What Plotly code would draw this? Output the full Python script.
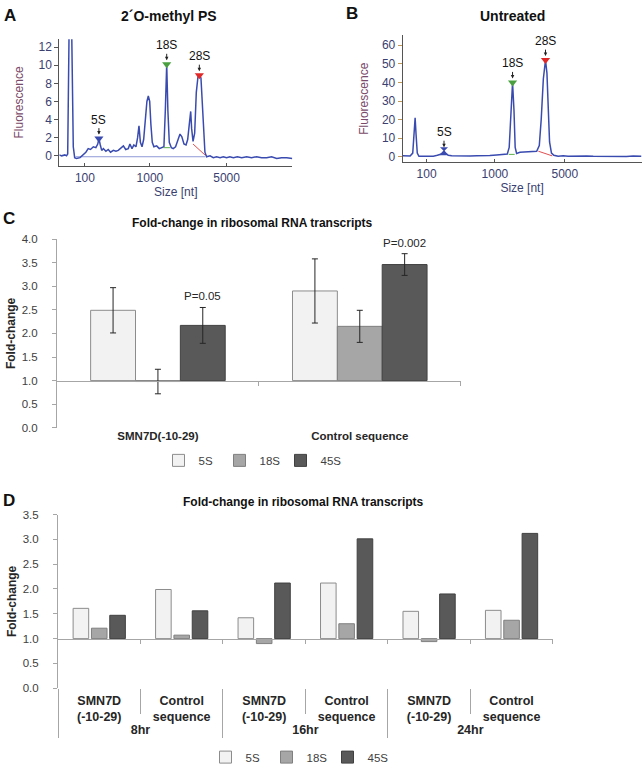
import plotly.graph_objects as go

W, H = 642, 772

# ---------------- DATA ----------------
# Panel A: electropherogram, 2'O-methyl PS (migration position, fluorescence)
a_pos = [0, 1.0, 2.4, 3.1, 3.6, 4.0, 4.3, 5.2, 5.6, 6.0, 6.6, 7.4, 8.9, 10.3, 11.4, 12.4, 13.4, 14.6,
         15.7, 16.5, 17.0, 17.6, 18.2, 18.9, 20.0, 21.0, 22.0, 23.2, 24.3, 25.3, 26.3, 27.5, 28.5,
         29.6, 30.3, 31.2, 32.0, 32.9, 33.6, 34.2, 34.8, 35.5, 36.2, 36.9, 37.6, 38.2, 38.8, 39.3,
         39.9, 40.6, 41.8, 42.9, 44.1, 44.9, 45.5, 46.1, 46.6, 47.2, 48.1, 48.9, 49.9, 50.8, 51.8,
         52.6, 53.5, 54.4, 55.1, 55.8, 56.4, 56.8, 57.4, 58.1, 58.8, 59.5, 60.1, 60.8, 61.4, 61.9,
         62.5, 63.2, 64.7, 66.1, 67.5, 69.0, 70.4, 71.8, 73.2, 74.7, 76.4, 78.3, 80.4, 82.5, 84.7,
         86.8, 89.0, 91.1, 93.3, 95.4, 97.6, 100]
a_fluor = [0.1, 0.0, 0.1, 0.0, 0.2, 8, 16, 16, 8, 1, -0.2, -0.3, -0.2, 0.1, 0.4, 0.8, 0.7, 1.0,
           0.9, 1.3, 1.9, 1.2, 0.6, 0.8, 0.5, 0.7, 0.4, 0.6, 0.5, 0.6, 0.8, 1.1, 0.7,
           0.8, 1.3, 0.8, 1.2, 1.0, 2.0, 3.3, 1.5, 1.0, 1.8, 4.0, 6.0, 6.6, 6.0, 3.5,
           1.5, 1.0, 1.1, 0.8, 0.9, 1.0, 5.0, 10.1, 5.0, 1.5, 0.9, 0.8, 1.0, 1.8, 2.4,
           2.1, 1.3, 1.2, 1.8, 3.5, 4.9, 3.0, 1.6, 2.5, 7.0, 8.7, 8.9, 8.6, 6.0, 2.5,
           0.4, -0.1, 0.0, -0.2, -0.1, -0.2, -0.1, -0.2, -0.1, -0.2, -0.1, -0.2, -0.1, -0.2, -0.1,
           -0.2, -0.2, -0.1, -0.3, -0.2, -0.2, -0.3]
a_base_pos = [7.0, 62.5]
a_base_val = [-0.1, -0.1]
a_tick_pos = [11.0, 38.9, 71.8]
peak_names = ["5S", "18S", "28S"]
a_peak_pos = [17.0, 46.1, 60.1]
a_peak_val = [1.9, 10.1, 8.9]
a_18s_base_pos = [44.7, 47.6]
a_18s_base_val = [0.9, 0.9]
a_28s_base_pos = [57.4, 62.5]
a_28s_base_val = [1.3, 0.1]

# Panel B: electropherogram, untreated
b_pos = [0, 1.4, 3.1, 4.2, 4.7, 5.2, 5.6, 6.1, 6.8, 8.6, 10.7, 12.8, 14.5, 15.6, 16.5, 17.3, 18.1,
         19.1, 20.5, 22.6, 25.4, 28.2, 31.0, 33.8, 36.5, 39.3, 42.1, 43.8, 44.6, 45.2, 46.0, 46.6,
         47.1, 47.7, 49.1, 50.8, 52.6, 54.7, 56.1, 57.2, 58.0, 58.9, 59.8, 60.4, 60.9, 61.5, 62.3,
         63.3, 65.1, 67.2, 69.3, 71.4, 74.2, 77.0, 79.8, 82.6, 85.4, 88.1, 90.9, 93.7, 96.5, 100]
b_fluor = [0.5, 0.3, 0.4, 2, 12, 21, 12, 2, 0.3, 0.2, 0.4, 0.3, 0.8, 1.2, 2.0, 3.0, 1.8,
           0.8, 0.5, 0.4, 0.5, 0.4, 0.6, 0.5, 0.7, 1.0, 1.3, 1.5, 5, 22, 40, 25,
           5, 1.8, 2.4, 2.6, 2.8, 2.8, 3.0, 6, 20, 42, 52, 45, 25, 8, 2,
           0.8, 0.3, 0.5, 0.3, 0.4, 0.3, 0.4, 0.3, 0.2, 0.4, 0.3, 0.3, 0.2, 0.4, 0.3]
b_tick_pos = [10.0, 38.6, 67.9]
b_peak_pos = [17.3, 46.0, 59.8]
b_peak_val = [3.0, 40.0, 52.0]
b_18s_base_pos = [44.4, 46.9]
b_18s_base_val = [1.3, 1.3]
b_28s_base_pos = [56.8, 62.6]
b_28s_base_val = [3.0, 0.5]

size_labels = ["100", "1000", "5000"]

# Panel C
c_groups = ["SMN7D(-10-29)", "Control sequence"]
rna_names = ["5S", "18S", "45S"]
c_5s = [2.49, 2.90]
c_18s = [0.98, 2.15]
c_45s = [2.17, 3.46]
c_5s_err = [0.48, 0.68]
c_18s_err = [0.26, 0.34]
c_45s_err = [0.38, 0.23]
c_pvals = ["P=0.05", "P=0.002"]

# Panel D
d_times = ["8hr", "8hr", "16hr", "16hr", "24hr", "24hr"]
d_treat = ["SMN7D<br>(-10-29)", "Control<br>sequence"] * 3
d_5s = [1.61, 1.99, 1.42, 2.12, 1.55, 1.57]
d_18s = [1.21, 1.07, 0.90, 1.30, 0.94, 1.37]
d_45s = [1.47, 1.56, 2.12, 3.01, 1.90, 3.12]

baseline = 1.0

# ---------------- STYLE ----------------
NARROW = "Liberation Sans Narrow, Arial Narrow, Liberation Sans, Arial, sans-serif"
SANS = "Liberation Sans, Arial, Helvetica, sans-serif"
TRACE_BLUE = "#3a4bb0"
EP_TXT = "#3a4070"
fills = ["#f2f2f2", "#a6a6a6", "#595959"]
edges = ["#8c8c8c", "#7f7f7f", "#404040"]
AXC = "#a6a6a6"


def fx(p):
    return p / W


def fy(p):
    return 1 - p / H


fig = go.Figure()

# ---------- Panels A & B ----------
for pos, val, tick_pos, peak_pos, peak_val, s18p, s18v, s28p, s28v, xa, ya, m5 in [
    (a_pos, a_fluor, a_tick_pos, a_peak_pos, a_peak_val, a_18s_base_pos, a_18s_base_val,
     a_28s_base_pos, a_28s_base_val, "x", "y", "triangle-down"),
    (b_pos, b_fluor, b_tick_pos, b_peak_pos, b_peak_val, b_18s_base_pos, b_18s_base_val,
     b_28s_base_pos, b_28s_base_val, "x2", "y2", "hourglass"),
]:
    if xa == "x":
        fig.add_trace(go.Scatter(x=a_base_pos, y=a_base_val, mode="lines", xaxis=xa, yaxis=ya,
                                 line=dict(color="#8f9ad8", width=1), showlegend=False, hoverinfo="skip"))
    fig.add_trace(go.Scatter(x=pos, y=val, mode="lines", xaxis=xa, yaxis=ya,
                             line=dict(color=TRACE_BLUE, width=1.5), showlegend=False))
    fig.add_trace(go.Scatter(x=s18p, y=s18v, mode="lines", xaxis=xa, yaxis=ya,
                             line=dict(color="#5cb04a", width=1), showlegend=False, hoverinfo="skip"))
    fig.add_trace(go.Scatter(x=s28p, y=s28v, mode="lines", xaxis=xa, yaxis=ya,
                             line=dict(color="#e05050", width=1), showlegend=False, hoverinfo="skip"))
    fig.add_trace(go.Scatter(x=peak_pos, y=peak_val, mode="markers", xaxis=xa, yaxis=ya,
                             marker=dict(symbol=[m5, "triangle-down", "triangle-down"],
                                         color=["#3a4bb0", "#4aa040", "#e02828"], size=8),
                             text=peak_names, showlegend=False))
    for nm, p, v in zip(peak_names, peak_pos, peak_val):
        fig.add_annotation(x=p, y=v, xref=xa, yref=ya, text=nm, showarrow=True,
                           ax=0, ay=-19, arrowhead=2, arrowsize=0.7, arrowwidth=1,
                           arrowcolor="#222", standoff=4,
                           font=dict(family=NARROW, size=12, color="#111"))

ep_axis = dict(showline=True, linecolor="#555", linewidth=1, ticks="outside", ticklen=4,
               tickcolor="#555", showgrid=False, zeroline=False,
               tickfont=dict(family=SANS, size=12, color=EP_TXT))
ep_x = dict(ep_axis, ticks="inside", ticklen=3, ticklabelstandoff=1)

fig.update_layout(
    xaxis=dict(ep_x, domain=[fx(59.3), fx(292.3)], range=[0, 100], anchor="y",
               tickmode="array", tickvals=a_tick_pos, ticktext=size_labels,
               title=dict(text="Size [nt]", font=dict(family=SANS, size=12, color=EP_TXT), standoff=0)),
    yaxis=dict(ep_axis, domain=[fy(163), fy(34)], range=[-1.08, 12.86], anchor="x",
               tick0=0, dtick=2,
               title=dict(text="Fluorescence", font=dict(family=SANS, size=12, color="#7a4a6a"), standoff=12)),
    xaxis2=dict(ep_x, domain=[fx(402.7), fx(641.5)], range=[0, 100], anchor="y2",
                tickmode="array", tickvals=b_tick_pos, ticktext=size_labels,
                title=dict(text="Size [nt]", font=dict(family=SANS, size=12, color=EP_TXT), standoff=0)),
    yaxis2=dict(ep_axis, domain=[fy(159.3), fy(30)], range=[-2.8, 65.3], anchor="x2",
                tick0=0, dtick=10, tickcolor="#c09858",
                title=dict(text="Fluorescence", font=dict(family=SANS, size=12, color="#7a4a6a"), standoff=10)),
)

# ---------- Panel C ----------
c_series = [c_5s, c_18s, c_45s]
c_errs = [c_5s_err, c_18s_err, c_45s_err]
bar_w = (1 - 1 / 3) / 3
for i, (nm, vals, errs) in enumerate(zip(rna_names, c_series, c_errs)):
    fig.add_trace(go.Bar(
        x=c_groups, y=[v - baseline for v in vals], base=baseline, name=nm,
        xaxis="x3", yaxis="y3", width=bar_w, offset=-1.5 * bar_w + i * bar_w,
        marker=dict(color=fills[i], line=dict(color=edges[i], width=1)),
        error_y=dict(type="data", array=errs, color="#262626", thickness=1, width=3),
        legend="legend", customdata=vals, hovertemplate="%{x}<br>" + nm + ": %{customdata}<extra></extra>",
    ))
fig.add_trace(go.Scatter(x=[], y=[], xaxis="x5", yaxis="y3", showlegend=False, hoverinfo="skip"))

for gi, (txt, v, e) in enumerate(zip(c_pvals, c_45s, c_45s_err)):
    fig.add_annotation(x=gi + bar_w, y=v + e, xref="x3", yref="y3", text=txt, showarrow=False,
                       yanchor="bottom", yshift=3, font=dict(family=NARROW, size=11.5, color="#262626"))

c_dom = [fy(430.7), fy(238)]
c_range = [0, 4]
c_pos1 = c_dom[0] + (baseline - c_range[0]) / (c_range[1] - c_range[0]) * (c_dom[1] - c_dom[0])

fc_y = dict(showline=True, linecolor=AXC, linewidth=1, ticks="outside", ticklen=4, tickcolor=AXC,
            showgrid=False, zeroline=False, dtick=0.5, tick0=0, tickformat=".1f",
            ticklabelstandoff=12, tickfont=dict(family=NARROW, size=11.5, color="#404040"))

fig.update_layout(
    xaxis3=dict(domain=[fx(57), fx(460.7)], anchor="y3", type="category", categoryarray=c_groups,
                range=[-0.5, 1.5], showline=False, ticks="", showgrid=False, zeroline=False,
                tickfont=dict(family=NARROW, size=11.5, color="#262626", weight="bold")),
    yaxis3=dict(fc_y, domain=c_dom, range=c_range, anchor="x3",
                title=dict(text="Fold-change", font=dict(family=NARROW, size=12, color="#262626", weight="bold"),
                           standoff=3)),
    xaxis5=dict(overlaying="x3", anchor="free", position=c_pos1, range=[-0.5, 1.5],
                tickmode="array", tickvals=[0.5, 1.5], ticks="outside", ticklen=4, tickcolor=AXC,
                showline=True, linecolor=AXC, linewidth=1, showticklabels=False,
                showgrid=False, zeroline=False),
)

# ---------- Panel D ----------
d_series = [d_5s, d_18s, d_45s]
for i, (nm, vals) in enumerate(zip(rna_names, d_series)):
    fig.add_trace(go.Bar(
        x=[d_times, d_treat], y=[v - baseline for v in vals], base=baseline, name=nm,
        xaxis="x4", yaxis="y4",
        marker=dict(color=fills[i], line=dict(color=edges[i], width=1)),
        legend="legend2", customdata=vals, hovertemplate=nm + ": %{customdata}<extra></extra>",
    ))
fig.add_trace(go.Scatter(x=[], y=[], xaxis="x6", yaxis="y4", showlegend=False, hoverinfo="skip"))

d_dom = [fy(696.7), fy(519.3)]
d_range = [0, 3.5]
d_pos1 = d_dom[0] + (baseline - d_range[0]) / (d_range[1] - d_range[0]) * (d_dom[1] - d_dom[0])
n_d = len(d_treat)

fig.update_layout(
    xaxis4=dict(domain=[fx(58), fx(552.8)], anchor="y4", type="multicategory", showline=False,
                ticks="outside", ticklen=25, tickcolor=AXC, tickson="boundaries",
                showdividers=True, dividercolor=AXC, dividerwidth=1, showgrid=False, zeroline=False,
                ticklabelstandoff=3,
                tickfont=dict(family=NARROW, size=12.5, color="#262626", weight="bold")),
    yaxis4=dict(fc_y, domain=d_dom, range=d_range, anchor="x4",
                title=dict(text="Fold-change", font=dict(family=NARROW, size=12, color="#262626", weight="bold"),
                           standoff=3)),
    xaxis6=dict(overlaying="x4", anchor="free", position=d_pos1, range=[-0.5, n_d - 0.5],
                tickmode="array", tickvals=[k + 0.5 for k in range(n_d)], ticks="outside", ticklen=4,
                tickcolor=AXC, showline=True, linecolor=AXC, linewidth=1, showticklabels=False,
                showgrid=False, zeroline=False),
)

# ---------- titles & panel letters ----------
texts = [
    ("A", 2, 10, "left", SANS, 17),
    ("2´O-methyl PS", 169, 10, "center", SANS, 14),
    ("B", 344, 8, "left", SANS, 17),
    ("Untreated", 512, 10, "center", SANS, 14),
    ("C", 1, 217, "left", SANS, 17),
    ("Fold-change in ribosomal RNA transcripts", 252, 222, "center", NARROW, 12),
    ("D", 1, 505, "left", SANS, 17),
    ("Fold-change in ribosomal RNA transcripts", 303, 506, "center", NARROW, 12),
]
for t, x, y, xa, fam, sz in texts:
    fig.add_annotation(x=fx(x), y=fy(y), xref="paper", yref="paper", text=t, showarrow=False,
                       xanchor=xa, yanchor="middle",
                       font=dict(family=fam, size=sz, color="#111", weight="bold"))

fig.update_layout(
    width=W, height=H, autosize=False, margin=dict(l=0, r=0, t=0, b=0),
    paper_bgcolor="white", plot_bgcolor="white", barmode="group", bargap=1 / 3, bargroupgap=0.15,
    showlegend=True,
    legend=dict(orientation="h", x=fx(250), y=fy(464), xanchor="center", yanchor="middle",
                font=dict(family=NARROW, size=11.5, color="#404040"), itemwidth=30, entrywidth=16,
                bgcolor="rgba(0,0,0,0)", tracegroupgap=0),
    legend2=dict(orientation="h", x=fx(297), y=fy(767), xanchor="center", yanchor="middle",
                 font=dict(family=NARROW, size=11.5, color="#404040"), itemwidth=30, entrywidth=16,
                 bgcolor="rgba(0,0,0,0)", tracegroupgap=0),
)

fig.write_html("out.html", config={"displayModeBar": False},
               post_script="document.body.style.margin='0';")
